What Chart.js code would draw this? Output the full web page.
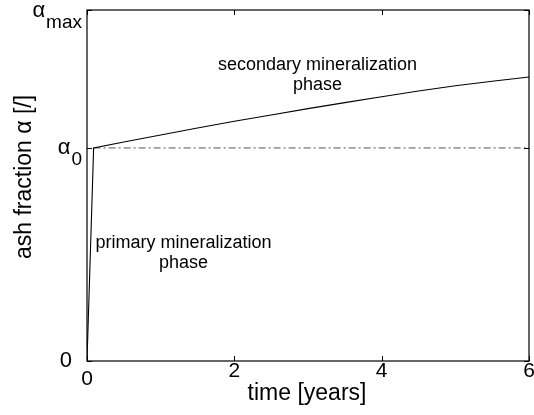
<!DOCTYPE html>
<html>
<head>
<meta charset="utf-8">
<script src="https://cdn.jsdelivr.net/npm/chart.js@4/dist/chart.umd.min.js"></script>
<style>
  html, body { margin: 0; padding: 0; background: #fff; }
  #wrap { width: 534px; height: 415px; }
</style>
</head>
<body>
<div id="wrap"><canvas id="myChart" width="534" height="415"></canvas></div>
<script>
// valores (alfa normalizado: alfa_max = 1)
var alpha0 = 0.607;
var alphaMax = 1;

// curva de mineralizacao: fase primaria (0 -> 0.09) e secundaria
var curveT = [0, 0.09, 0.5, 1, 1.5, 2, 2.5, 3, 3.5, 4, 4.5, 5, 5.5, 6];
var curveA = [0, 0.607, 0.624, 0.644, 0.664, 0.683, 0.701, 0.719, 0.736, 0.753, 0.769, 0.784, 0.797, 0.809];

// linha tracejada em alfa0
var refT = [0.09, 6];
var refA = [alpha0, alpha0];

// ticks
var xTicks = [0, 2, 4, 6];
var xTickLabels = ['0', '2', '4', '6'];
var yTicks = [0, alpha0, alphaMax];
var yTickMain = ['0', 'α', 'α'];
var yTickSub = ['', '0', 'max'];

// textos das fases
var phaseLabels = [
  { t: 3.13, a: 0.843, lines: ['secondary mineralization', 'phase'] },
  { t: 1.31, a: 0.335, lines: ['primary mineralization', 'phase'] }
];

var FONT = '"Liberation Sans", Arial, Helvetica, sans-serif';

function toXY(xs, ys) {
  return xs.map(function (x, i) { return { x: x, y: ys[i] }; });
}

// plugin que desenha caixa, ticks para dentro e rotulos no estilo matlab
var matlabAxes = {
  id: 'matlabAxes',
  afterDatasetsDraw: function (chart) {
    var c = chart.ctx;
    var a = chart.chartArea;
    var xs = chart.scales.x, ys = chart.scales.y;
    c.save();
    c.strokeStyle = '#000';
    c.lineWidth = 1.2;
    c.strokeRect(a.left, a.top, a.right - a.left, a.bottom - a.top);

    // ticks para dentro
    c.lineWidth = 1;
    c.beginPath();
    xTicks.forEach(function (v) {
      var px = Math.round(xs.getPixelForValue(v)) + 0.5;
      c.moveTo(px, a.bottom); c.lineTo(px, a.bottom - 5);
      c.moveTo(px, a.top); c.lineTo(px, a.top + 5);
    });
    yTicks.forEach(function (v) {
      var py = Math.round(ys.getPixelForValue(v)) + 0.5;
      c.moveTo(a.left, py); c.lineTo(a.left + 5, py);
      c.moveTo(a.right, py); c.lineTo(a.right - 5, py);
    });
    c.stroke();

    // rotulos do eixo x
    c.fillStyle = '#000';
    c.font = '21px ' + FONT;
    c.textAlign = 'center';
    c.textBaseline = 'alphabetic';
    xTicks.forEach(function (v, i) {
      var px = xs.getPixelForValue(v);
      var base = a.bottom + 16;
      if (i === 0) base += 8;
      c.fillText(xTickLabels[i], px, base);
    });

    // rotulos do eixo y (com subscrito)
    yTicks.forEach(function (v, i) {
      var py = ys.getPixelForValue(v);
      c.font = '19px ' + FONT;
      var subW = yTickSub[i] ? c.measureText(yTickSub[i]).width : 0;
      c.font = '22px ' + FONT;
      var mainW = c.measureText(yTickMain[i]).width;
      var right = a.left - 6;
      if (!yTickSub[i]) right -= 9;
      var x0 = right - subW - mainW;
      c.textAlign = 'left';
      c.fillText(yTickMain[i], x0, py + 6 + (i === 2 ? 1 : 0));
      if (yTickSub[i]) {
        c.font = '19px ' + FONT;
        c.fillText(yTickSub[i], x0 + mainW + 1, py + 17 + (i === 2 ? 1 : 0));
      }
    });

    // titulos
    c.font = '23px ' + FONT;
    c.textAlign = 'center';
    c.textBaseline = 'middle';
    c.fillText('time [years]', (a.left + a.right) / 2 - 1, 394);
    c.save();
    c.translate(25, 177);
    c.rotate(-Math.PI / 2);
    c.fillText('ash fraction α [/]', 0, 0);
    c.restore();

    // textos das fases
    c.font = '18px ' + FONT;
    phaseLabels.forEach(function (p) {
      var px = xs.getPixelForValue(p.t);
      var py = ys.getPixelForValue(p.a);
      p.lines.forEach(function (l, k) {
        c.fillText(l, px, py + k * 20);
      });
    });
    c.restore();
  }
};

var ctx = document.getElementById('myChart');
var myChart = new Chart(ctx, {
  type: 'scatter',
  data: {
    datasets: [{
      label: 'alpha',
      data: toXY(curveT, curveA),
      showLine: true,
      borderColor: '#000',
      borderWidth: 1.1,
      pointRadius: 0,
      tension: 0
    }, {
      label: 'alpha0',
      data: toXY(refT, refA),
      showLine: true,
      borderColor: '#555',
      borderWidth: 1,
      borderDash: [7, 3, 2, 3],
      pointRadius: 0
    }]
  },
  options: {
    responsive: false,
    animation: false,
    events: [],
    layout: { padding: { left: 87, right: 5, top: 10, bottom: 54 } },
    plugins: {
      legend: { display: false },
      tooltip: { enabled: false }
    },
    scales: {
      x: {
        type: 'linear', min: 0, max: 6,
        grid: { display: false },
        border: { display: false },
        ticks: { display: false },
        afterFit: function (s) { s.height = 0; }
      },
      y: {
        type: 'linear', min: 0, max: alphaMax,
        grid: { display: false },
        border: { display: false },
        ticks: { display: false },
        afterFit: function (s) { s.width = 0; }
      }
    }
  },
  plugins: [matlabAxes]
});
</script>
</body>
</html>
